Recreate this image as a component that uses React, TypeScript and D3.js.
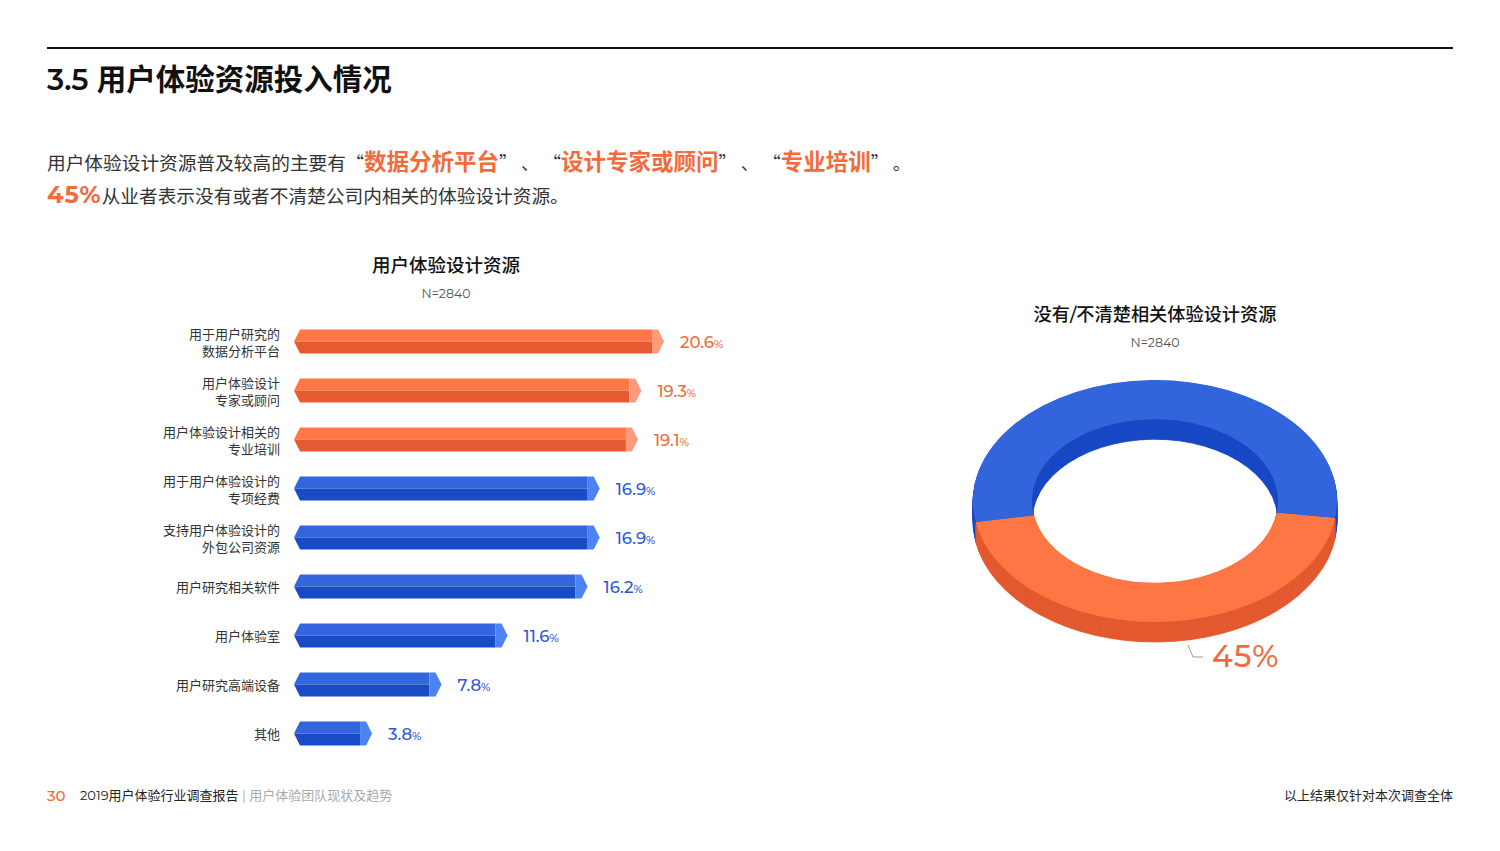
import React from "react";
import * as d3 from "d3";

// 用户体验设计资源 (N=2840)
const categories = [
  ["用于用户研究的", "数据分析平台"],
  ["用户体验设计", "专家或顾问"],
  ["用户体验设计相关的", "专业培训"],
  ["用于用户体验设计的", "专项经费"],
  ["支持用户体验设计的", "外包公司资源"],
  ["用户研究相关软件"],
  ["用户体验室"],
  ["用户研究高端设备"],
  ["其他"],
];
const values = [20.6, 19.3, 19.1, 16.9, 16.9, 16.2, 11.6, 7.8, 3.8];
const highlighted = [true, true, true, false, false, false, false, false, false];

// 没有/不清楚相关体验设计资源
const donutLabels = ["没有/不清楚", "有"];
const donutValues = [45, 55];

const FONT = "Montserrat, Inter, 'Noto Sans CJK SC', sans-serif";
const CJK = "'Noto Sans CJK SC', sans-serif";
const ORANGE = { top: "#FF7846", bottom: "#E65A31", cap: "#FF9A7A", text: "#F26B3C" };
const BLUE = { top: "#3366DD", bottom: "#1A4BC6", cap: "#4B82F4", text: "#2C5AD6" };

const Bars = () => {
  const x = d3.scaleLinear().domain([0, d3.max(values) as number]).range([306, 664]);
  const y = d3
    .scaleBand<number>()
    .domain(d3.range(values.length))
    .range([317, 758])
    .paddingInner(0);
  const x0 = 294;
  const h = 12;
  const cap = 12;

  return (
    <g>
      {values.map((v, i) => {
        const cy = (y(i) as number) + y.bandwidth() / 2;
        const xe = x(v);
        const c = highlighted[i] ? ORANGE : BLUE;
        const lines = categories[i];
        return (
          <g key={i}>
            <polygon
              points={`${x0},${cy} ${x0 + 6},${cy - h} ${xe - cap},${cy - h} ${xe - cap},${cy}`}
              fill={c.top}
            />
            <polygon
              points={`${x0},${cy} ${xe - cap},${cy} ${xe - cap},${cy + h} ${x0 + 6},${cy + h}`}
              fill={c.bottom}
            />
            <polygon
              points={`${xe - cap},${cy - h} ${xe - 6},${cy - h} ${xe},${cy} ${xe - 6},${cy + h} ${xe - cap},${cy + h}`}
              fill={c.cap}
            />
            <text
              x={xe + 16}
              y={cy + 6}
              fill={c.text}
              fontSize={16.5}
              fontWeight={500}
              fontFamily={FONT}
            >
              {v.toFixed(1)}
              <tspan fontSize={11}>%</tspan>
            </text>
            {lines.map((t, j) => (
              <text
                key={j}
                x={280}
                y={cy + 5 + (lines.length === 2 ? (j === 0 ? -8 : 9) : 0)}
                textAnchor="end"
                fontSize={13}
                fill="#333"
                fontFamily={FONT}
              >
                {t}
              </text>
            ))}
          </g>
        );
      })}
    </g>
  );
};

const Donut = () => {
  const cx = 1155;
  const cy = 501;
  const rx = 182;
  const ry = 121;
  const depth = 20;
  const colors = [
    { top: "#FF7645", side: "#E3592F" },
    { top: "#3264DC", side: "#1848C4" },
  ];
  const start = (98 * Math.PI) / 180;
  const pie = d3
    .pie<number>()
    .sort(null)
    .value((d) => d)
    .startAngle(start)
    .endAngle(start + 2 * Math.PI);
  const arcs = pie(donutValues);
  const arc = d3.arc<d3.PieArcDatum<number>>().innerRadius(123).outerRadius(rx);
  const layers = d3.range(depth, 0, -1);

  return (
    <g>
      {layers.map((d) => (
        <g key={d} transform={`translate(${cx},${cy + d}) scale(1,${ry / rx})`}>
          {arcs.map((a, i) => (
            <path key={i} d={arc(a) as string} fill={colors[i].side} stroke={colors[i].side} strokeWidth={1} />
          ))}
        </g>
      ))}
      <g transform={`translate(${cx},${cy}) scale(1,${ry / rx})`}>
        {arcs.map((a, i) => (
          <path key={i} d={arc(a) as string} fill={colors[i].top}>
            <title>{donutLabels[i]}</title>
          </path>
        ))}
      </g>
      <polyline
        points="1188,645 1193,657 1203,657"
        fill="none"
        stroke="#999"
        strokeWidth={1}
      />
      <text x={1212} y={667} fontSize={31} fontWeight={500} fill="#F26B3C" fontFamily={FONT} letterSpacing={1}>
        {donutValues[0]}%
      </text>
    </g>
  );
};

const App = () => {
  const hl = { fill: "#F26B3C", fontSize: 22.5, fontWeight: 700, fontFamily: CJK };
  const q = { fontFamily: CJK, fontSize: 18 };
  return (
    <svg
      width={1500}
      height={851}
      style={{ position: "absolute", left: 0, top: 0, background: "#fff" }}
      fontFamily={FONT}
    >
      <line x1={47} x2={1453} y1={48} y2={48} stroke="#111" strokeWidth={2} />
      <text x={47} y={90} fontSize={29.5} fontWeight={600} fill="#111">
        3.5 用户体验资源投入情况
      </text>

      <text x={47} y={170} fontSize={18.7} fill="#333">
        用户体验设计资源普及较高的主要有
        <tspan {...q}>“</tspan>
        <tspan {...hl}>数据分析平台</tspan>
        <tspan {...q}>” 、 “</tspan>
        <tspan {...hl}>设计专家或顾问</tspan>
        <tspan {...q}>” 、 “</tspan>
        <tspan {...hl}>专业培训</tspan>
        <tspan {...q}>” 。</tspan>
      </text>
      <text x={47} y={203} fontSize={18.7} fill="#333">
        <tspan fill="#F26B3C" fontSize={24} fontWeight={700} letterSpacing={1}>45%</tspan>
        从业者表示没有或者不清楚公司内相关的体验设计资源。
      </text>

      <text x={446} y={272} textAnchor="middle" fontSize={18.5} fontWeight={500} fill="#111">
        用户体验设计资源
      </text>
      <text x={446} y={298} textAnchor="middle" fontSize={12.5} fill="#555">
        N=2840
      </text>
      <Bars />

      <text x={1155} y={321} textAnchor="middle" fontSize={18.2} fontWeight={500} fill="#111">
        没有/不清楚相关体验设计资源
      </text>
      <text x={1155} y={347} textAnchor="middle" fontSize={12.5} fill="#555">
        N=2840
      </text>
      <Donut />

      <text x={47} y={801} fontSize={15} fill="#F26B3C" fontWeight={500}>
        30
      </text>
      <text x={80} y={800} fontSize={13} fill="#222">
        2019用户体验行业调查报告
        <tspan fill="#aaa"> | 用户体验团队现状及趋势</tspan>
      </text>
      <text x={1453} y={800} textAnchor="end" fontSize={13} fill="#222">
        以上结果仅针对本次调查全体
      </text>
    </svg>
  );
};

export default App;
